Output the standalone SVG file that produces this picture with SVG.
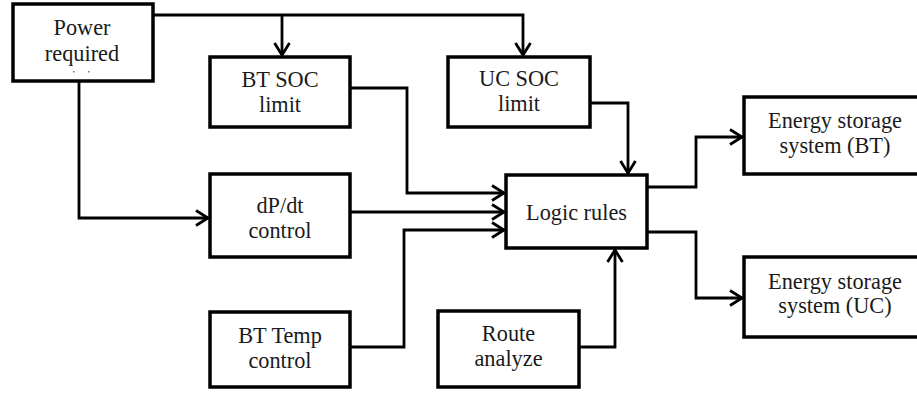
<svg xmlns="http://www.w3.org/2000/svg" width="917" height="394" viewBox="0 0 917 394">
<style>
.box{fill:#fff;stroke:#000;stroke-width:3.5}
.ln{fill:none;stroke:#000;stroke-width:2.8;stroke-linejoin:miter}
text{text-anchor:middle;fill:#1a1a1a}
</style>
<defs>
<marker id="ah" markerUnits="userSpaceOnUse" markerWidth="20" markerHeight="20" viewBox="-14 -10 16 20" refX="0" refY="0" orient="auto">
<path d="M-12,-7.5 L0,0 L-12,7.5" fill="none" stroke="#000" stroke-width="2.8"/>
</marker>
</defs>
<rect width="917" height="394" fill="#fff"/>
<g id="connectors">
<path class="ln" d="M153,15 H523 V55" marker-end="url(#ah)"/>
<path class="ln" d="M282,15 V55" marker-end="url(#ah)"/>
<path class="ln" d="M79,81 V218 H208" marker-end="url(#ah)"/>
<path class="ln" d="M350,88 H407 V193 H504" marker-end="url(#ah)"/>
<path class="ln" d="M350,212 H504" marker-end="url(#ah)"/>
<path class="ln" d="M350,347 H404 V230 H504" marker-end="url(#ah)"/>
<path class="ln" d="M590,103 H628 V173" marker-end="url(#ah)"/>
<path class="ln" d="M579,347 H615 V250" marker-end="url(#ah)"/>
<path class="ln" d="M647,187 H696 V137 H742" marker-end="url(#ah)"/>
<path class="ln" d="M647,232 H696 V298 H742" marker-end="url(#ah)"/>
</g>
<g font-family="Liberation Serif, Times New Roman, serif" font-size="22.3">
<g id="power">
<rect class="box" x="13" y="4" width="140" height="77"/>
<text x="82" y="35">Power</text>
<text x="82" y="61">required</text>
<rect x="73" y="71" width="1.5" height="1.5" fill="#777"/>
<rect x="88" y="71" width="1.5" height="1.5" fill="#777"/>
</g>
<g id="btsoc">
<rect class="box" x="210" y="57" width="140" height="70"/>
<text x="280" y="87">BT SOC</text>
<text x="280" y="112">limit</text>
</g>
<g id="ucsoc">
<rect class="box" x="448" y="57" width="142" height="70"/>
<text x="519" y="86">UC SOC</text>
<text x="519" y="111">limit</text>
</g>
<g id="dpdt">
<rect class="box" x="210" y="174" width="140" height="83"/>
<text x="280" y="213">dP/dt</text>
<text x="280" y="238">control</text>
</g>
<g id="bttemp">
<rect class="box" x="210" y="312" width="140" height="75"/>
<text x="280" y="343">BT Temp</text>
<text x="280" y="368">control</text>
</g>
<g id="logic">
<rect class="box" x="506" y="175" width="141" height="73"/>
<text x="576.5" y="220">Logic rules</text>
</g>
<g id="route">
<rect class="box" x="438" y="311" width="141" height="76"/>
<text x="508.5" y="341">Route</text>
<text x="508.5" y="366">analyze</text>
</g>
<g id="esbt">
<rect class="box" x="744" y="97" width="182" height="77"/>
<text x="835" y="128">Energy storage</text>
<text x="835" y="153">system (BT)</text>
</g>
<g id="esuc">
<rect class="box" x="744" y="257" width="182" height="80"/>
<text x="835" y="289">Energy storage</text>
<text x="835" y="313">system (UC)</text>
</g>
</g>
</svg>
